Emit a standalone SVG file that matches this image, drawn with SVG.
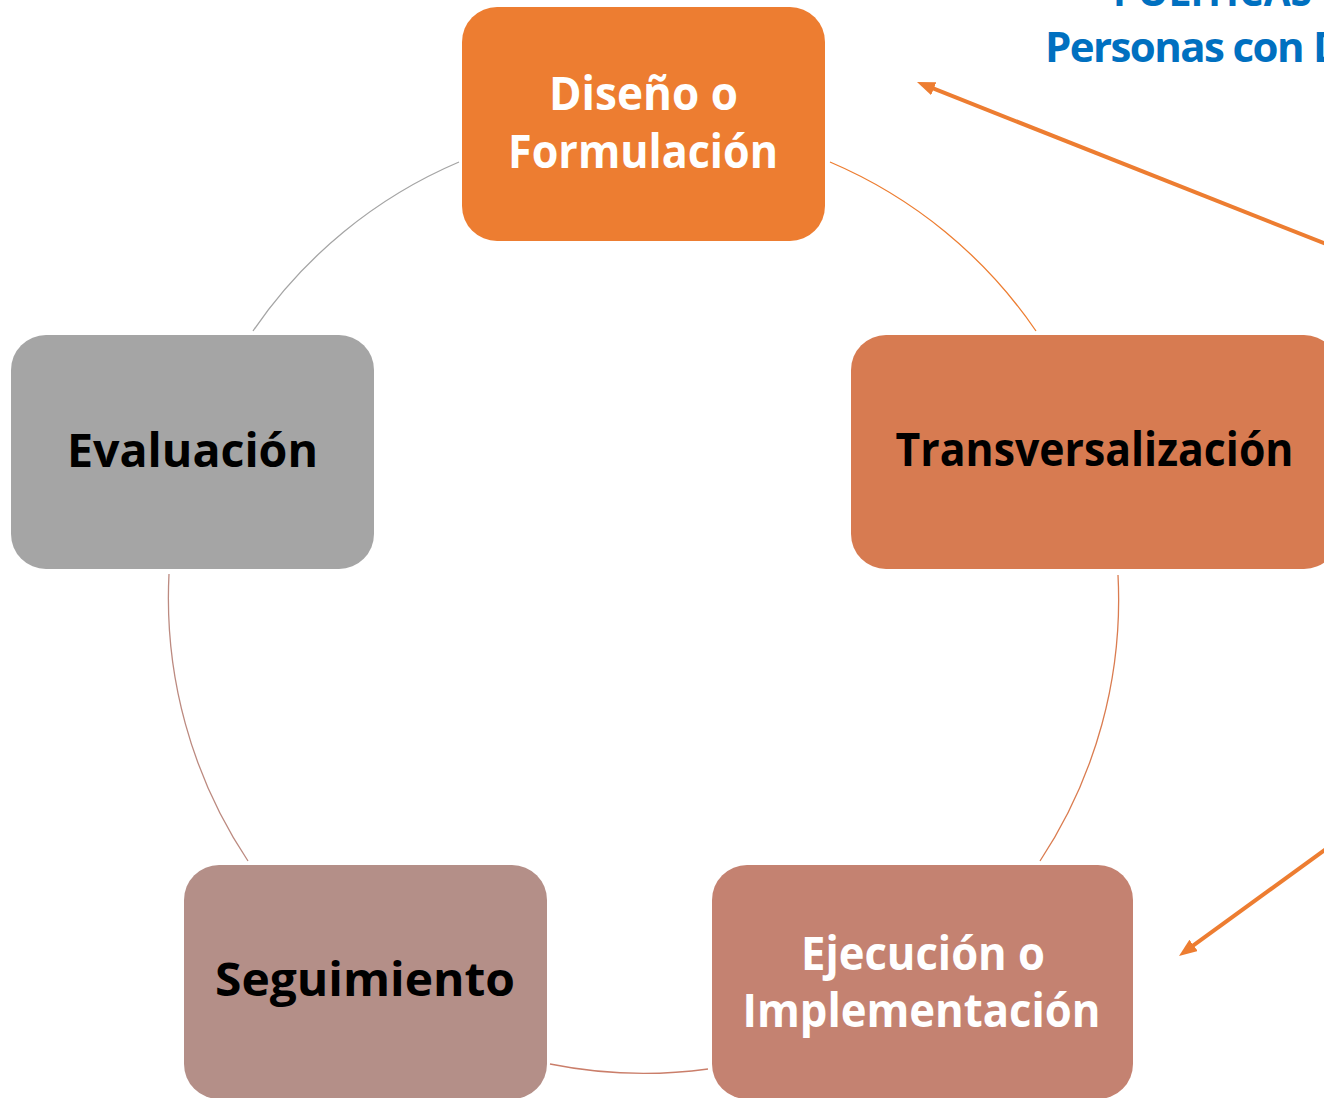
<svg xmlns="http://www.w3.org/2000/svg" width="1324" height="1098" viewBox="0 0 1324 1098">
<style>
.lbl{font-family:"Open Sans","Noto Sans","Liberation Sans",sans-serif;font-weight:700;font-size:47px;text-anchor:middle}
.w{fill:#FFFFFF}
.k{fill:#000000}
.arc{fill:none;stroke-width:1.3}
.arrow{stroke:#ED7D31;stroke-width:4;fill:none}
.title{font-family:"Open Sans","Noto Sans","Liberation Sans",sans-serif;font-weight:700;fill:#0070C0}
</style>
<defs>
<marker id="ah" markerUnits="userSpaceOnUse" markerWidth="20" markerHeight="16" refX="4" refY="7" orient="auto">
<path d="M0,0 L18,7 L0,14 z" fill="#ED7D31"/>
</marker>
</defs>
<rect width="1324" height="1098" fill="#FFFFFF"/>
<g id="title">
<text class="title" x="1113" y="6" font-size="42" textLength="199" lengthAdjust="spacingAndGlyphs">POLÍTICAS</text>
<text class="title" x="1045" y="62" font-size="42" letter-spacing="-1.6">Personas con<tspan dx="10">D</tspan></text>
</g>
<g id="connectors">
<path class="arc" stroke="#ED7D31" d="M830,162 A474,474 0 0 1 1036,331"/>
<path class="arc" stroke="#DA7C50" d="M1118,575 A474,474 0 0 1 1040,861"/>
<path class="arc" stroke="#CA7E6A" d="M708,1069 A474,474 0 0 1 550,1064"/>
<path class="arc" stroke="#BC8A80" d="M248,861 A474,474 0 0 1 169,574"/>
<path class="arc" stroke="#A5A5A5" d="M253,331 A474,474 0 0 1 459,162"/>
<line class="arrow" x1="1326" y1="244" x2="930" y2="87.2" marker-end="url(#ah)"/>
<line class="arrow" x1="1326" y1="849" x2="1190.3" y2="947.7" marker-end="url(#ah)"/>
</g>
<g id="node-diseno">
<rect x="462" y="7" width="363" height="234" rx="35" fill="#ED7D31"/>
<text class="lbl w" x="643.5" y="110" textLength="189" lengthAdjust="spacingAndGlyphs">Diseño o</text>
<text class="lbl w" x="643" y="168" textLength="270" lengthAdjust="spacingAndGlyphs">Formulación</text>
</g>
<g id="node-transversalizacion">
<rect x="851" y="335" width="488" height="234" rx="35" fill="#D77B51"/>
<text class="lbl k" x="1094.5" y="466" textLength="398" lengthAdjust="spacingAndGlyphs">Transversalización</text>
</g>
<g id="node-ejecucion">
<rect x="712" y="865" width="421" height="234" rx="35" fill="#C48271"/>
<text class="lbl w" x="923" y="970" textLength="244" lengthAdjust="spacingAndGlyphs">Ejecución o</text>
<text class="lbl w" x="921.5" y="1027" textLength="358" lengthAdjust="spacingAndGlyphs">Implementación</text>
</g>
<g id="node-seguimiento">
<rect x="184" y="865" width="363" height="234" rx="35" fill="#B48F88"/>
<text class="lbl k" x="365" y="996" textLength="300" lengthAdjust="spacingAndGlyphs">Seguimiento</text>
</g>
<g id="node-evaluacion">
<rect x="11" y="335" width="363" height="234" rx="35" fill="#A5A5A5"/>
<text class="lbl k" x="192.5" y="467" textLength="251" lengthAdjust="spacingAndGlyphs">Evaluación</text>
</g>
</svg>
